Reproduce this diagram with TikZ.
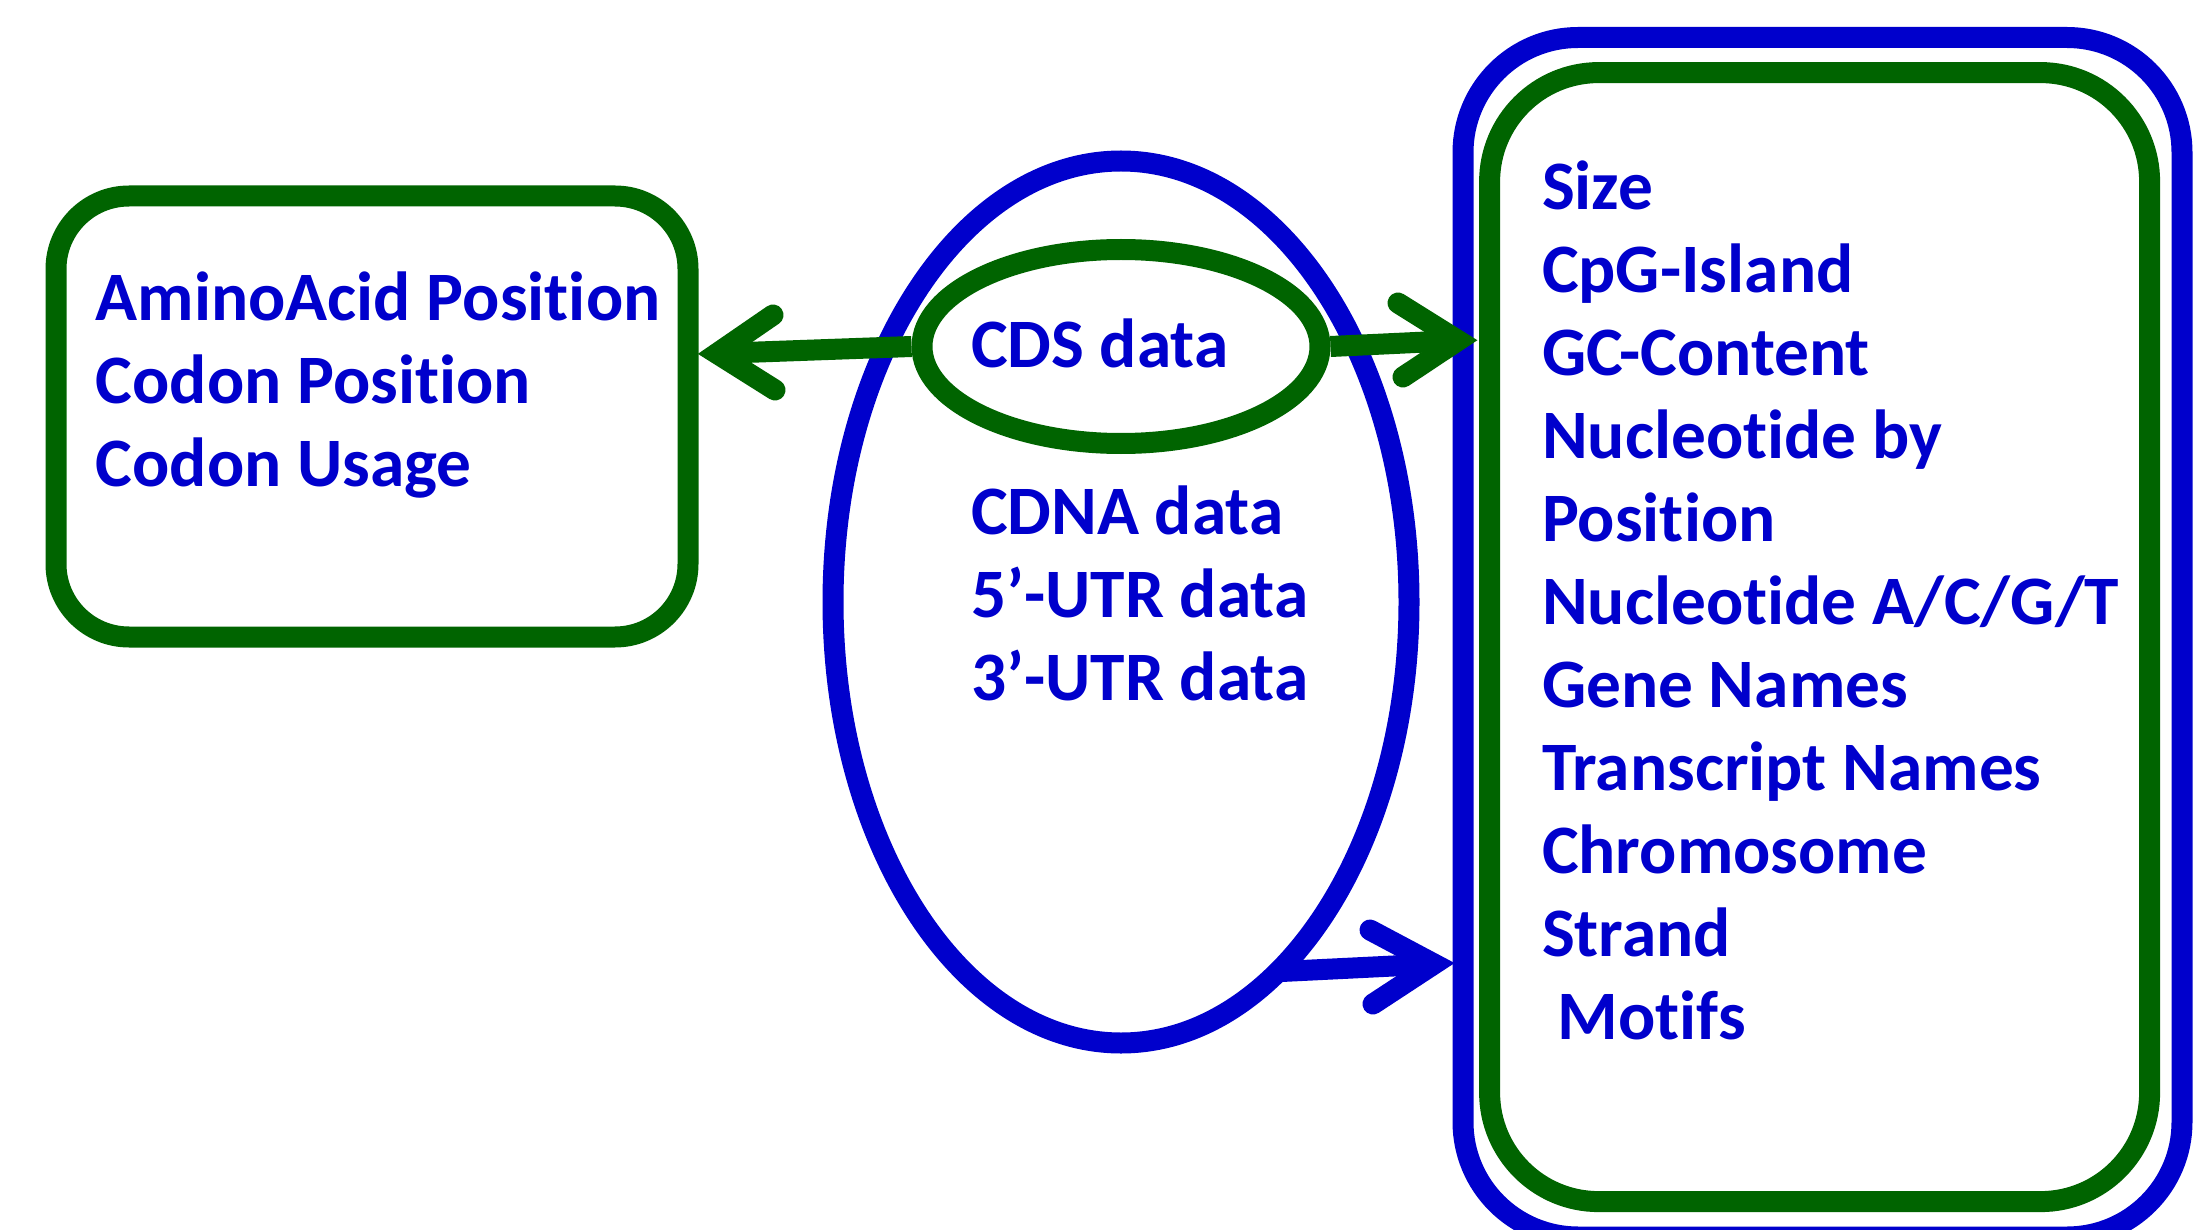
\documentclass[tikz,border=0pt]{standalone}
\usepackage{fontspec}
\setmainfont{Carlito}[Ligatures=NoCommon]
\usetikzlibrary{shapes.geometric}
\definecolor{blu}{RGB}{0,0,204}
\definecolor{grn}{RGB}{0,100,0}
\begin{document}
\begin{tikzpicture}[x=1pt,y=-1pt,
  gline/.style={draw=grn, line width=21pt},
  bline/.style={draw=blu, line width=21pt},
  barb/.style={line cap=round, line join=miter},
  txt/.style={text=blu, font=\fontsize{69.4}{83}\selectfont\bfseries, anchor=base west, inner sep=0pt, outer sep=0pt},
  shapebox/.style={inner sep=0pt}
]
\useasboundingbox (0,0) rectangle (2193,1230);
\fill[white] (0,0) rectangle (2193,1230);
\clip (0,0) rectangle (2193,1230);

% left box
\node[gline, shapebox, rounded corners=73pt, minimum width=632pt, minimum height=441pt] (amino) at (372,416.5) {};
\node[txt] (aminotxt) at (95.7,320.7) {\begin{tabular}[t]{@{}l@{}}AminoAcid Position\\Codon Position\\Codon Usage\end{tabular}};

% middle ellipses
\node[bline, shapebox, ellipse, minimum width=576pt, minimum height=882pt] (ell) at (1121,602) {};
\node[gline, shapebox, ellipse, minimum width=398pt, minimum height=194pt] (cds) at (1121,346.5) {};
\node[txt] (cdstxt) at (971,368) {CDS data};
\node[txt] (cdnatxt) at (971,534) {\begin{tabular}[t]{@{}l@{}}CDNA data\\5’-UTR data\\3’-UTR data\end{tabular}};

% right boxes
\node[bline, shapebox, rounded corners=115pt, minimum width=719pt, minimum height=1199.5pt] (outerbox) at (1822.5,637.25) {};
\node[gline, shapebox, rounded corners=109pt, minimum width=660pt, minimum height=1129pt] (innerbox) at (1819.6,637.1) {};
\node[txt] (featuretxt) at (1542,209.3) {\begin{tabular}[t]{@{}l@{}}Size\\CpG-Island\\GC-Content\\Nucleotide by\\Position\\Nucleotide A/C/G/T\\Gene Names\\Transcript Names\\Chromosome\\Strand\\\ Motifs\end{tabular}};

% arrows
\coordinate (vL) at (717,353.5);
\coordinate (bL1) at (773,315);
\coordinate (bL2) at (775,390);
\draw[gline] (cds.west) -- (vL);
\draw[gline, barb] (bL1) -- (vL) -- (bL2);

\coordinate (vR) at (1458,340.5);
\coordinate (bR1) at (1398,303);
\coordinate (bR2) at (1403,377);
\draw[gline] (cds.east) -- (vR);
\draw[gline, barb] (bR1) -- (vR) -- (bR2);

\coordinate (vB) at (1434,964);
\coordinate (bB1) at (1370,930);
\coordinate (bB2) at (1373,1004);
\draw[bline, shorten <=-12pt] (ell.-65) -- (vB);
\draw[bline, barb] (bB1) -- (vB) -- (bB2);
\end{tikzpicture}
\end{document}
